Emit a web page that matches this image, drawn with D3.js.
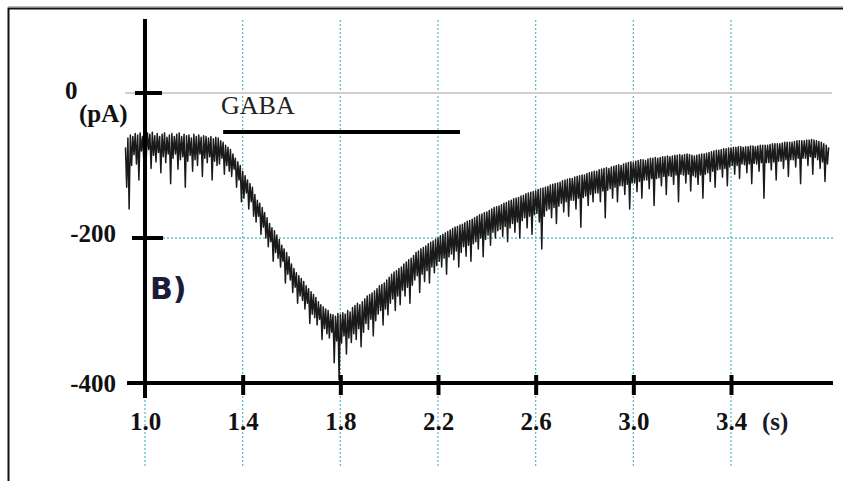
<!DOCTYPE html>
<html>
<head>
<meta charset="utf-8">
<script src="https://cdn.jsdelivr.net/npm/d3@7/dist/d3.min.js"></script>
<style>
  html, body { margin: 0; padding: 0; background: #fff; }
  svg { display: block; }
</style>
</head>
<body>
<svg id="chart" width="843" height="481"></svg>
<script>
// ---- data ----
const xTicks = [1.0, 1.4, 1.8, 2.2, 2.6, 3.0, 3.4];
const xTickLabels = ["1.0", "1.4", "1.8", "2.2", "2.6", "3.0", "3.4"];
const yTicks = [0, -200, -400];
const yTickLabels = ["0", "-200", "-400"];
const xUnit = "(s)";
const yUnit = "(pA)";
const panelLabel = "B)";
const gabaLabel = "GABA";
const gabaStart = 1.32;   // s
const gabaEnd = 2.29;     // s
const traceStart = 0.92;  // s, first sample time
const traceStep = 0.005;  // s, sample interval
// recorded current (pA), one value per sample
const current = [
  -75, -130, -62, -160, -58, -100,
  -60, -85, -56, -98, -58, -120, -55, -80, -60, -92,
  -58, -90, -55, -78, -57, -104, -54, -86, -59, -95,
  -56, -82, -60, -110, -57, -88, -55, -96, -61, -84,
  -58, -125, -56, -90, -60, -84, -57, -105, -55, -92,
  -60, -88, -57, -130, -59, -94, -58, -86, -62, -108,
  -57, -92, -60, -100, -58, -84, -61, -115, -59, -90,
  -60, -96, -62, -88, -60, -120, -63, -94, -61, -100,
  -62, -98, -66, -90, -68, -112, -72, -100, -75, -108,
  -78, -115, -84, -105, -90, -130, -95, -120, -100, -150,
  -108, -145, -114, -138, -120, -160, -125, -150, -130, -170,
  -140, -178, -148, -170, -152, -195, -158, -185, -165, -200,
  -172, -212, -180, -205, -186, -232, -190, -220, -196, -228,
  -202, -240, -210, -232, -215, -262, -220, -250, -226, -258,
  -236, -275, -242, -268, -248, -290, -252, -280, -256, -286,
  -260, -298, -266, -290, -270, -318, -274, -305, -278, -310,
  -282, -320, -288, -312, -292, -340, -295, -325, -298, -332,
  -300, -338, -305, -330, -306, -372, -308, -342, -304, -395,
  -306, -345, -303, -335, -305, -360, -300, -338, -302, -344,
  -296, -332, -293, -340, -290, -325, -292, -350, -288, -330,
  -284, -318, -280, -326, -278, -312, -276, -335, -273, -314,
  -270, -305, -266, -300, -264, -320, -262, -298, -258, -306,
  -254, -290, -250, -284, -247, -300, -245, -280, -242, -292,
  -240, -272, -236, -280, -233, -268, -230, -290, -228, -265,
  -224, -258, -220, -252, -218, -275, -215, -250, -213, -260,
  -211, -245, -208, -262, -206, -240, -204, -248, -202, -238,
  -200, -232, -197, -240, -195, -228, -193, -250, -191, -226,
  -189, -222, -187, -230, -185, -218, -184, -240, -182, -220,
  -181, -212, -179, -225, -177, -210, -176, -232, -174, -208,
  -172, -205, -170, -215, -168, -200, -167, -226, -165, -202,
  -164, -196, -162, -210, -160, -192, -158, -200, -157, -190,
  -156, -188, -154, -198, -152, -184, -151, -205, -149, -186,
  -148, -180, -146, -192, -145, -178, -144, -200, -142, -176,
  -141, -172, -139, -186, -138, -170, -137, -195, -136, -168,
  -135, -166, -133, -178, -132, -215, -131, -170, -130, -162,
  -129, -160, -127, -172, -126, -158, -125, -180, -124, -156,
  -123, -152, -121, -164, -120, -150, -119, -170, -118, -148,
  -118, -148, -116, -160, -115, -145, -114, -185, -113, -144,
  -113, -142, -111, -155, -110, -140, -109, -150, -108, -138,
  -108, -138, -106, -150, -105, -135, -104, -172, -103, -134,
  -104, -132, -102, -145, -101, -130, -100, -150, -99, -128,
  -100, -128, -98, -140, -97, -126, -96, -160, -95, -124,
  -96, -124, -94, -136, -93, -122, -92, -145, -92, -120,
  -93, -120, -91, -132, -90, -118, -90, -155, -89, -118,
  -90, -117, -89, -128, -88, -115, -88, -140, -87, -114,
  -88, -115, -87, -126, -86, -113, -86, -150, -85, -112,
  -86, -113, -85, -124, -84, -112, -85, -135, -86, -114,
  -87, -116, -86, -126, -85, -113, -84, -145, -84, -112,
  -83, -110, -82, -122, -81, -108, -80, -130, -79, -106,
  -79, -105, -78, -116, -77, -104, -77, -128, -76, -102,
  -76, -100, -75, -112, -75, -100, -74, -118, -74, -98,
  -75, -99, -74, -110, -74, -98, -73, -125, -73, -97,
  -74, -98, -73, -108, -72, -96, -72, -145, -72, -96,
  -72, -96, -71, -106, -70, -95, -70, -120, -70, -94,
  -70, -94, -69, -104, -68, -92, -68, -115, -68, -92,
  -68, -92, -67, -102, -66, -90, -66, -125, -66, -90,
  -66, -90, -65, -100, -65, -88, -64, -112, -65, -89,
  -66, -92, -67, -104, -68, -95, -70, -122, -72, -98,
  -75
];

// ---- layout ----
const svg = d3.select("#chart");
const x = d3.scaleLinear().domain([1.0, 3.4]).range([145, 731]);
const y = d3.scaleLinear().domain([0, -400]).range([93, 383]);
const gridTeal = "#5fbfc6";
const serif = "'Liberation Serif', 'Times New Roman', serif";

// frame
svg.append("rect")
  .attr("x", 8.5).attr("y", 8.5).attr("width", 860).attr("height", 500)
  .attr("fill", "none").attr("stroke", "#111").attr("stroke-width", 2);
svg.append("line")
  .attr("x1", 8).attr("x2", 843).attr("y1", 6.5).attr("y2", 6.5)
  .attr("stroke", "#bbb").attr("stroke-width", 1);

// vertical dotted gridlines
svg.append("g").selectAll("line").data(xTicks).join("line")
  .attr("x1", d => x(d)).attr("x2", d => x(d))
  .attr("y1", 20).attr("y2", 468)
  .attr("stroke", gridTeal).attr("stroke-width", 1.3)
  .attr("stroke-dasharray", "2,2");

// horizontal gridlines: zero (solid gray) and -200 (dotted)
svg.append("line")
  .attr("x1", 125).attr("x2", 832).attr("y1", y(0)).attr("y2", y(0))
  .attr("stroke", "#cfcfcf").attr("stroke-width", 2);
svg.append("line")
  .attr("x1", 163).attr("x2", 833).attr("y1", y(-200)).attr("y2", y(-200))
  .attr("stroke", gridTeal).attr("stroke-width", 1.3)
  .attr("stroke-dasharray", "2,2");

// trace
const traceData = current.map((v, i) => ({ t: traceStart + i * traceStep, v }));
svg.append("path")
  .datum(traceData)
  .attr("fill", "none")
  .attr("stroke", "#1a1a1a")
  .attr("stroke-width", 1.5)
  .attr("stroke-linejoin", "round")
  .attr("d", d3.line().x(d => x(d.t)).y(d => y(d.v)));

// axes lines
svg.append("line")
  .attr("x1", 127).attr("x2", 833).attr("y1", y(-400)).attr("y2", y(-400))
  .attr("stroke", "#000").attr("stroke-width", 4);
svg.append("line")
  .attr("x1", x(1.0)).attr("x2", x(1.0)).attr("y1", 19).attr("y2", 398)
  .attr("stroke", "#000").attr("stroke-width", 4);

// x axis via d3.axisBottom
const xAxis = d3.axisBottom(x)
  .tickValues(xTicks)
  .tickFormat((d, i) => xTickLabels[i])
  .tickSize(12)
  .tickPadding(26);
const gx = svg.append("g")
  .attr("transform", `translate(0,${y(-400)})`)
  .call(xAxis);
gx.select(".domain").remove();
gx.selectAll(".tick line")
  .attr("y1", -8).attr("y2", 12)
  .attr("stroke", "#000").attr("stroke-width", 4);
gx.selectAll(".tick").filter(d => d === 1.0).select("line").remove();
gx.selectAll(".tick text")
  .attr("font-family", serif).attr("font-weight", "bold")
  .attr("font-size", 25).attr("fill", "#111")
  .attr("dy", null).attr("y", 47);

// x unit
svg.append("text")
  .attr("x", x(3.4) + 31).attr("y", 430)
  .attr("font-family", serif).attr("font-weight", "bold")
  .attr("font-size", 25).attr("fill", "#1a1a2a")
  .text(xUnit);

// y axis ticks and labels
const yTickExtent = { "0": [135, 162], "-200": [132, 163] };
svg.append("g").selectAll("line")
  .data(yTicks.filter(d => d !== -400)).join("line")
  .attr("x1", d => yTickExtent[String(d)][0])
  .attr("x2", d => yTickExtent[String(d)][1])
  .attr("y1", d => y(d)).attr("y2", d => y(d))
  .attr("stroke", "#000").attr("stroke-width", 4);

svg.append("g").selectAll("text").data(yTicks).join("text")
  .attr("x", d => d === 0 ? 65 : 116)
  .attr("y", d => y(d) + (d === 0 ? 6 : (d === -200 ? 4 : 9)))
  .attr("text-anchor", d => d === 0 ? "start" : "end")
  .attr("font-family", serif).attr("font-weight", "bold")
  .attr("font-size", 25).attr("fill", "#111")
  .text((d, i) => yTickLabels[i]);

svg.append("text")
  .attr("x", 79).attr("y", 122)
  .attr("font-family", serif).attr("font-weight", "bold")
  .attr("font-size", 25).attr("fill", "#111")
  .text(yUnit);

// GABA application bar
svg.append("line")
  .attr("x1", x(gabaStart)).attr("x2", x(gabaEnd))
  .attr("y1", 132).attr("y2", 132)
  .attr("stroke", "#000").attr("stroke-width", 4);
svg.append("text")
  .attr("x", 221).attr("y", 114)
  .attr("font-family", serif)
  .attr("font-size", 26).attr("fill", "#222")
  .text(gabaLabel);

// panel label
svg.append("text")
  .attr("x", 150).attr("y", 299)
  .attr("font-family", "'DejaVu Sans', Verdana, sans-serif")
  .attr("font-weight", "bold")
  .attr("font-size", 30).attr("fill", "#1c1c3a")
  .text(panelLabel);
</script>
</body>
</html>
